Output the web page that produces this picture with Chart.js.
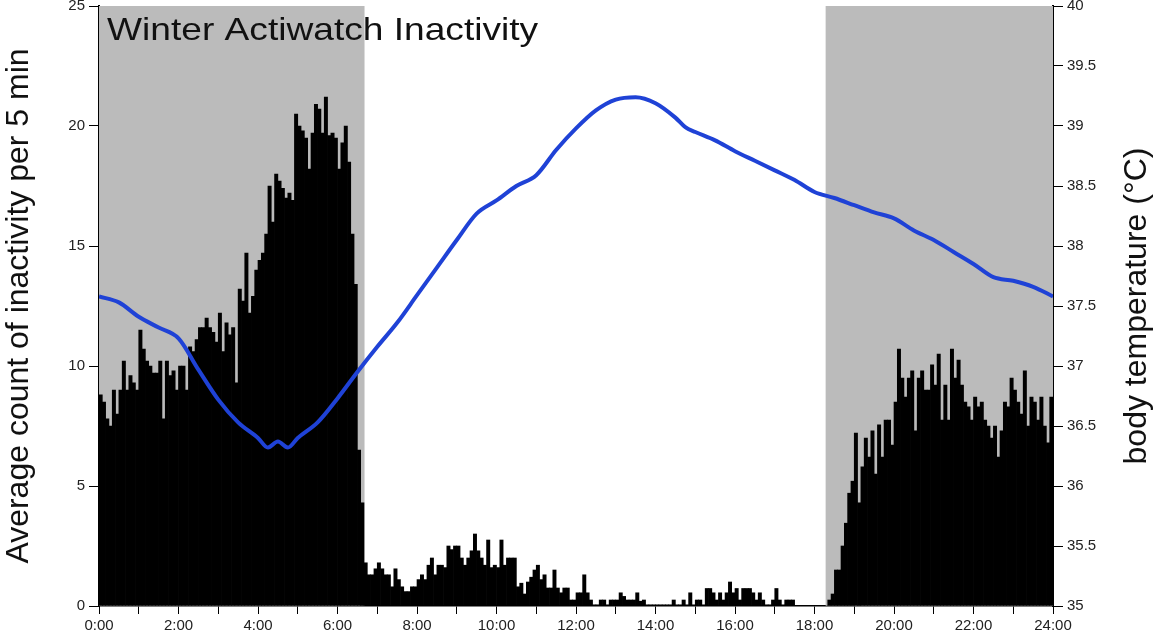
<!DOCTYPE html>
<html>
<head>
<meta charset="utf-8">
<script src="https://cdn.jsdelivr.net/npm/chart.js@4.4.1/dist/chart.umd.min.js"></script>
<style>
  html, body { margin: 0; padding: 0; background: #fff; }
  #wrap { width: 1155px; height: 642px; }
</style>
</head>
<body>
<div id="wrap"><canvas id="graph" width="1155" height="642"></canvas></div>
<script>
// average inactivity count per 5 min bin, one row per hour (12 bins)
const inactivity = [
  8.8, 8.5, 7.8, 7.5, 9.0, 8.0, 9.0, 10.2, 9.0, 9.6, 9.3, 9.0,
  11.5, 10.7, 10.2, 10.0, 9.7, 9.7, 10.2, 7.8, 10.2, 9.6, 9.8, 9.0,
  10.0, 10.0, 9.0, 10.8, 10.6, 11.1, 11.6, 11.6, 12.0, 11.6, 11.4, 11.0,
  12.2, 10.6, 11.8, 11.3, 11.6, 9.3, 13.2, 12.7, 14.7, 12.2, 12.9, 14.0,
  14.4, 14.7, 15.5, 17.5, 16.0, 18.0, 17.7, 17.4, 17.0, 17.2, 16.9, 20.5,
  20.0, 19.8, 19.5, 18.2, 19.7, 20.9, 20.7, 19.7, 21.2, 19.6, 19.7, 19.5,
  18.2, 19.3, 20.0, 18.5, 15.5, 13.4, 6.5, 4.3, 1.8, 1.3, 1.3, 1.55,
  1.8, 1.55, 1.3, 1.3, 0.8, 1.55, 1.1, 0.8, 0.6, 0.6, 0.8, 0.8,
  1.1, 1.3, 1.1, 1.7, 2.0, 1.3, 1.7, 1.7, 1.6, 2.5, 2.35, 2.5,
  2.5, 2.0, 1.7, 2.0, 2.3, 3.0, 2.3, 2.0, 1.7, 2.75, 1.6, 1.7,
  1.6, 2.75, 1.7, 2.0, 2.0, 2.0, 0.8, 0.95, 0.5, 1.0, 1.2, 1.5,
  1.7, 1.1, 1.3, 0.75, 0.75, 1.5, 0.75, 0.55, 0.75, 0.75, 0.25, 0.25,
  0.55, 0.55, 1.3, 0.55, 0.25, 0.05, 0.05, 0.25, 0.25, 0.05, 0.25, 0.25,
  0.25, 0.55, 0.4, 0.25, 0.25, 0.25, 0.55, 0.2, 0.25, 0.05, 0.05, 0.05,
  0.05, 0.05, 0.05, 0.05, 0.05, 0.25, 0.05, 0.05, 0.25, 0.05, 0.55, 0.05,
  0.25, 0.25, 0.05, 0.73, 0.73, 0.55, 0.25, 0.55, 0.25, 0.55, 1.0, 0.55,
  0.73, 0.25, 0.73, 0.73, 0.73, 0.55, 0.25, 0.55, 0.25, 0.05, 0.05, 0.25,
  0.73, 0.25, 0.05, 0.25, 0.25, 0.25, 0, 0, 0, 0, 0, 0,
  0, 0, 0, 0, 0.25, 0.5, 1.5, 1.5, 2.5, 3.45, 4.7, 5.2,
  7.2, 4.3, 5.8, 7.0, 6.2, 7.3, 5.5, 7.55, 6.2, 7.75, 7.75, 6.7,
  8.5, 10.7, 9.5, 8.7, 9.5, 9.8, 7.3, 9.5, 9.8, 9.0, 9.0, 10.05,
  9.2, 10.5, 7.75, 9.2, 7.75, 10.7, 9.5, 10.25, 9.2, 8.5, 8.3, 7.75,
  8.7, 8.3, 8.5, 7.75, 7.5, 7.0, 7.5, 6.2, 7.3, 8.5, 8.3, 9.5,
  9.0, 8.5, 8.0, 9.8, 7.5, 8.7, 8.5, 7.75, 8.7, 7.5, 6.8, 8.7
];

// body temperature, read at these hours
const tempHours = [0, 0.5, 1, 1.5, 2, 2.5, 3, 3.5, 4, 4.25, 4.5, 4.75, 5, 5.5, 6, 6.5, 7, 7.5, 8, 8.5,
  9, 9.5, 10, 10.5, 11, 11.5, 12, 12.5, 13, 13.5, 14, 14.5, 14.75, 15, 15.5, 16, 16.5, 17, 17.5,
  18, 18.5, 19, 19.5, 20, 20.5, 21, 21.5, 22, 22.5, 23, 23.5, 24];
const tempValues = [37.58, 37.53, 37.41, 37.32, 37.23, 36.97, 36.72, 36.53, 36.40, 36.32, 36.37, 36.32,
  36.40, 36.53, 36.73, 36.95, 37.16, 37.36, 37.59, 37.82, 38.05, 38.27, 38.38, 38.5, 38.59, 38.8,
  38.98, 39.13, 39.22, 39.24, 39.19, 39.07, 38.99, 38.95, 38.88, 38.79, 38.71, 38.63, 38.55, 38.45,
  38.40, 38.34, 38.28, 38.23, 38.13, 38.05, 37.95, 37.85, 37.74, 37.71, 37.66, 37.58];

// dark periods (hours)
const nightSpans = [[0, 6.68], [18.28, 24]];

const chartTitle = 'Winter Actiwatch Inactivity';
const leftTitle = 'Average count of inactivity per 5 min';
const rightTitle = 'body temperature (\u00B0C)';

const FONT = "'Liberation Sans', Arial, Helvetica, sans-serif";

const barPoints = inactivity.map((v, i) => ({ x: (i + 0.5) / 12, y: v }));
const tempPoints = tempHours.map((h, i) => ({ x: h, y: tempValues[i] }));

const nightShade = {
  id: 'nightShade',
  beforeDatasetsDraw(chart) {
    const { ctx, chartArea, scales } = chart;
    ctx.save();
    ctx.fillStyle = '#bbbbbb';
    nightSpans.forEach(([a, b]) => {
      const x0 = scales.x.getPixelForValue(a);
      const x1 = scales.x.getPixelForValue(b);
      ctx.fillRect(x0, chartArea.top, x1 - x0, chartArea.bottom - chartArea.top);
    });
    ctx.restore();
  }
};

const labels = {
  id: 'labels',
  afterDraw(chart) {
    const { ctx, chartArea } = chart;
    ctx.save();
    ctx.fillStyle = '#111';
    ctx.textBaseline = 'alphabetic';
    ctx.textAlign = 'left';
    ctx.font = '32px ' + FONT;
    ctx.translate(chartArea.left + 8, 40);
    ctx.scale(1.16, 1);
    ctx.fillText(chartTitle, 0, 0);
    ctx.restore();

    ctx.save();
    ctx.fillStyle = '#111';
    ctx.font = '32px ' + FONT;
    ctx.textAlign = 'center';
    ctx.textBaseline = 'middle';
    ctx.translate(1137, (chartArea.top + chartArea.bottom) / 2);
    ctx.rotate(-Math.PI / 2);
    ctx.fillText(rightTitle, 0, 0);
    ctx.restore();
  }
};

const tickFont = { family: FONT, size: 15 };

const noPad = s => { s.paddingTop = 0; s.paddingBottom = 0; };

new Chart(document.getElementById('graph'), {
  data: {
    datasets: [
      {
        type: 'line',
        data: tempPoints,
        yAxisID: 'y2',
        borderColor: '#1f42d6',
        borderWidth: 4,
        pointRadius: 0,
        tension: 0.4,
        cubicInterpolationMode: 'monotone',
        order: 0
      },
      {
        type: 'bar',
        data: barPoints,
        yAxisID: 'y',
        backgroundColor: '#000',
        borderWidth: 0,
        barPercentage: 1,
        categoryPercentage: 1,
        order: 1
      }
    ]
  },
  options: {
    responsive: false,
    animation: false,
    layout: { padding: { top: 6, left: 0, right: 0, bottom: 0 } },
    plugins: { legend: { display: false }, tooltip: { enabled: false } },
    scales: {
      x: {
        type: 'linear',
        offset: false,
        min: 0, max: 24,
        grid: { drawOnChartArea: false, tickLength: 8, color: '#000', tickWidth: 1, offset: false },
        border: { color: '#000', width: 1.5 },
        ticks: {
          stepSize: 1, autoSkip: false, maxRotation: 0, color: '#222', font: tickFont, padding: 3,
          callback: v => (v % 2 === 0 ? v + ':00' : '')
        },
        afterFit: s => { s.height = 36; s.paddingLeft = 0; s.paddingRight = 0; }
      },
      y: {
        position: 'left',
        min: 0, max: 25,
        grid: { drawOnChartArea: false, tickLength: 10, color: '#000' },
        border: { color: '#000', width: 2 },
        ticks: { stepSize: 5, color: '#222', font: tickFont, padding: 4 },
        title: { display: true, text: leftTitle, color: '#111', font: { family: FONT, size: 32 }, padding: { top: 0, bottom: 0 } },
        afterFit: s => { s.width = 99; noPad(s); }
      },
      y2: {
        position: 'right',
        min: 35, max: 40,
        grid: { drawOnChartArea: false, tickLength: 10, color: '#000' },
        border: { color: '#000', width: 2 },
        ticks: { stepSize: 0.5, color: '#222', font: tickFont, padding: 4, callback: v => String(v) },
        afterFit: s => { s.width = 102; noPad(s); }
      }
    }
  },
  plugins: [nightShade, labels]
});
</script>
</body>
</html>
